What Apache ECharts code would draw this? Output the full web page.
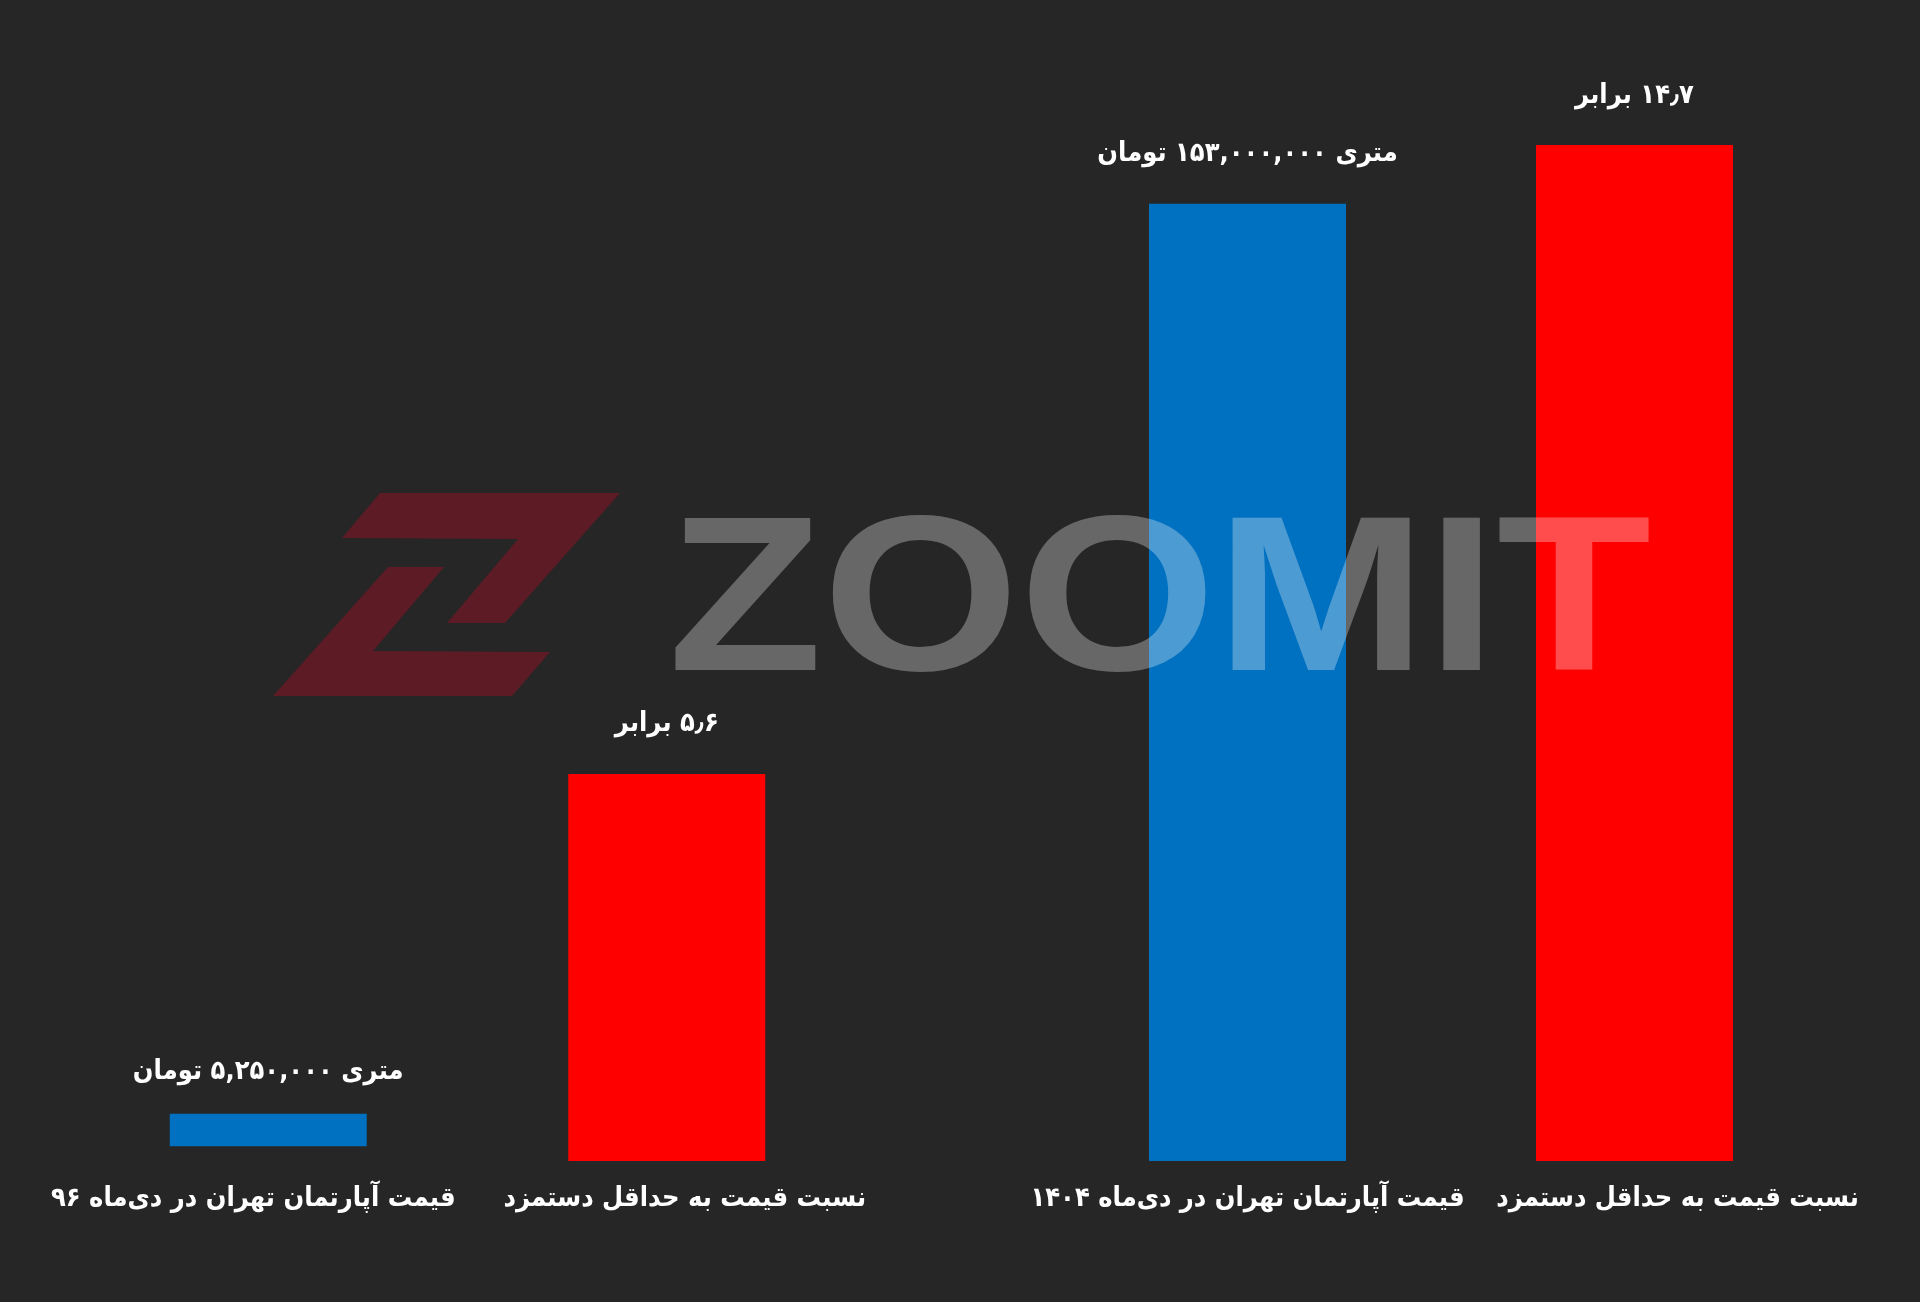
<!DOCTYPE html>
<html>
<head>
<meta charset="utf-8">
<script src="https://cdn.jsdelivr.net/npm/echarts@6/dist/echarts.min.js"></script>
<style>
html,body{margin:0;padding:0;background:#262626;}
#chart{width:1920px;height:1302px;}
</style>
</head>
<body>
<div id="chart"></div>
<script>
// ---- data ----
const periods = ['۹۶', '۱۴۰۴'];
const priceValues = [5250000, 153000000];   // تومان per m²
const ratioValues = [5.6, 14.7];            // ratio to minimum wage
const priceCategoryPrefix = 'قیمت آپارتمان تهران در دی‌ماه ';
const ratioCategory = 'نسبت قیمت به حداقل دستمزد';

// axis ranges (layout): price axis per period, ratio axis
const PRICE_AXIS_MIN = [-2400000, 0];
const PRICE_AXIS_MAX = 162400000;
const RATIO_AXIS_MAX = 14.7;

// label nudges (layout only): [price label, ratio label] per period
const labelPads = [
  [[0, 30, 0, 0], [0, 0, 0, 36]],
  [[0, 0, 0, 0], [0, 0, 0, 86]]
];

const RLE = '\u202B', PDF = '\u202C';
function toFa(s) {
  return String(s).replace(/[0-9]/g, d => '۰۱۲۳۴۵۶۷۸۹'[+d]);
}
function priceLabel(v) {
  return RLE + 'متری ' + toFa(v.toLocaleString('en-US')) + ' تومان' + PDF;
}
function ratioLabel(v) {
  return RLE + toFa(String(v)).replace('.', '٫') + ' برابر' + PDF;
}

const FONT = "'DejaVu Sans Condensed', 'DejaVu Sans', sans-serif";
const BLUE = '#0070c0';
const RED = '#ff0000';

const chart = echarts.init(document.getElementById('chart'), null, {renderer: 'canvas'});

const grids = [
  {left: 69, width: 797, top: 145, bottom: 141},
  {left: 1054, width: 774, top: 145, bottom: 141}
];

const xAxes = periods.map((p, i) => ({
  type: 'category',
  gridIndex: i,
  data: [
    {value: priceCategoryPrefix + p, textStyle: {padding: labelPads[i][0]}},
    {value: ratioCategory, textStyle: {padding: labelPads[i][1]}}
  ],
  axisLine: {show: false},
  axisTick: {show: false},
  axisLabel: {
    color: '#ffffff', fontFamily: FONT, fontWeight: 'bold', fontSize: 27,
    margin: 24, interval: 0, hideOverlap: false,
    formatter: v => RLE + v + PDF
  }
}));

const yAxes = [];
periods.forEach((p, i) => {
  yAxes.push({type: 'value', gridIndex: i, min: PRICE_AXIS_MIN[i], max: PRICE_AXIS_MAX, show: false, splitLine: {show: false}});
  yAxes.push({type: 'value', gridIndex: i, min: 0, max: RATIO_AXIS_MAX, show: false, splitLine: {show: false}});
});

const labelStyle = {
  show: true, position: 'top', distance: 36,
  color: '#ffffff', fontFamily: FONT, fontWeight: 'bold', fontSize: 27
};

const series = [];
periods.forEach((p, i) => {
  series.push({
    name: priceCategoryPrefix + p,
    type: 'bar', xAxisIndex: i, yAxisIndex: i * 2,
    data: [priceValues[i], '-'],
    barWidth: 197, barGap: '-100%',
    itemStyle: {color: BLUE},
    label: Object.assign({}, labelStyle, {distance: i === 0 ? 28 : 36, formatter: prm => priceLabel(prm.value)})
  });
  series.push({
    name: ratioCategory + ' ' + p,
    type: 'bar', xAxisIndex: i, yAxisIndex: i * 2 + 1,
    data: ['-', ratioValues[i]],
    barWidth: 197, barGap: '-100%',
    itemStyle: {color: RED},
    label: Object.assign({}, labelStyle, {formatter: prm => ratioLabel(prm.value)})
  });
});

const logoColor = '#5c1b25';

chart.setOption({
  backgroundColor: '#262626',
  animation: false,
  grid: grids,
  xAxis: xAxes,
  yAxis: yAxes,
  series: series,
  graphic: [
    {
      type: 'polygon', z: 100, silent: true,
      shape: {points: [[380,493],[620,493],[505,623],[447,623],[518,539],[342,538]]},
      style: {fill: logoColor}
    },
    {
      type: 'polygon', z: 100, silent: true,
      shape: {points: [[388,567],[444,567],[373,651],[550,652],[512,696],[273,696]]},
      style: {fill: logoColor}
    },
    {
      type: 'text', z: 100, silent: true,
      x: 668, y: 499, scaleX: 1.16, scaleY: 1.01,
      style: {
        text: 'ZOOMIT',
        fill: 'rgba(255,255,255,0.3)',
        font: "bold 218px 'Liberation Sans', sans-serif",
        textVerticalAlign: 'top'
      }
    }
  ]
});
</script>
</body>
</html>
